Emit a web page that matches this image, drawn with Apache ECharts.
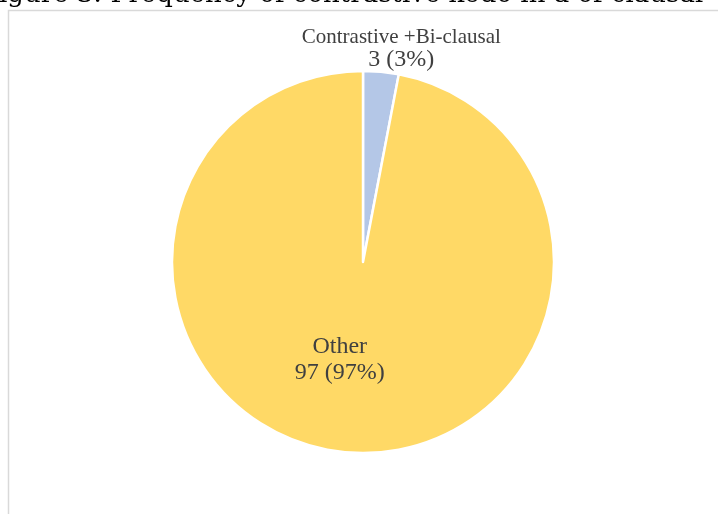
<!DOCTYPE html>
<html>
<head>
<meta charset="utf-8">
<script src="https://cdn.jsdelivr.net/npm/echarts@6/dist/echarts.min.js"></script>
<style>
  html, body { margin: 0; padding: 0; background: #ffffff; }
  #chart { width: 718px; height: 514px; }
</style>
</head>
<body>
<div id="chart"></div>
<script>
// Pie data
const categories = ['Contrastive +Bi-clausal', 'Other'];
const values = [3, 97];
const sliceColors = ['#B4C7E7', '#FFD966'];
const titleText = 'Figure 3: Frequency of contrastive kedo in a of clausal';

const chart = echarts.init(document.getElementById('chart'), null, { renderer: 'canvas' });

const serif = '"Liberation Serif", "Times New Roman", serif';
const titleFont = '"DejaVu Serif", serif';

const data = categories.map((name, i) => ({
  name: name,
  value: values[i],
  itemStyle: { color: sliceColors[i] },
  label: i === 0
    ? {
        position: 'inside',
        offset: [29, -115],
        formatter: '{n|{b}}\n{v|{c} ({d}%)}',
        rich: {
          n: { fontFamily: serif, fontSize: 21, color: '#404040', lineHeight: 21 },
          v: { fontFamily: serif, fontSize: 24, color: '#404040', lineHeight: 22 }
        }
      }
    : {
        position: 'inside',
        offset: [-14, 0],
        formatter: '{n|{b}}\n{v|{c} ({d}%)}',
        rich: {
          n: { fontFamily: serif, fontSize: 24, color: '#404040', lineHeight: 26 },
          v: { fontFamily: serif, fontSize: 24, color: '#404040', lineHeight: 26 }
        }
      }
}));

chart.setOption({
  animation: false,
  backgroundColor: '#ffffff',
  graphic: [
    {
      type: 'rect',
      shape: { x: 8.5, y: 10.5, width: 900, height: 700 },
      style: { fill: 'none', stroke: '#d9d9d9', lineWidth: 1.5 },
      z: 0
    },
    {
      type: 'text',
      left: -19,
      top: -18,
      style: {
        text: titleText,
        font: '26px ' + titleFont,
        fill: '#000000'
      },
      z: 10
    }
  ],
  series: [{
    type: 'pie',
    center: [363, 262],
    radius: [0, 191],
    startAngle: 90,
    clockwise: true,
    itemStyle: { borderColor: '#ffffff', borderWidth: 2.5 },
    labelLine: { show: false },
    emphasis: { disabled: true },
    data: data
  }]
});
</script>
</body>
</html>
